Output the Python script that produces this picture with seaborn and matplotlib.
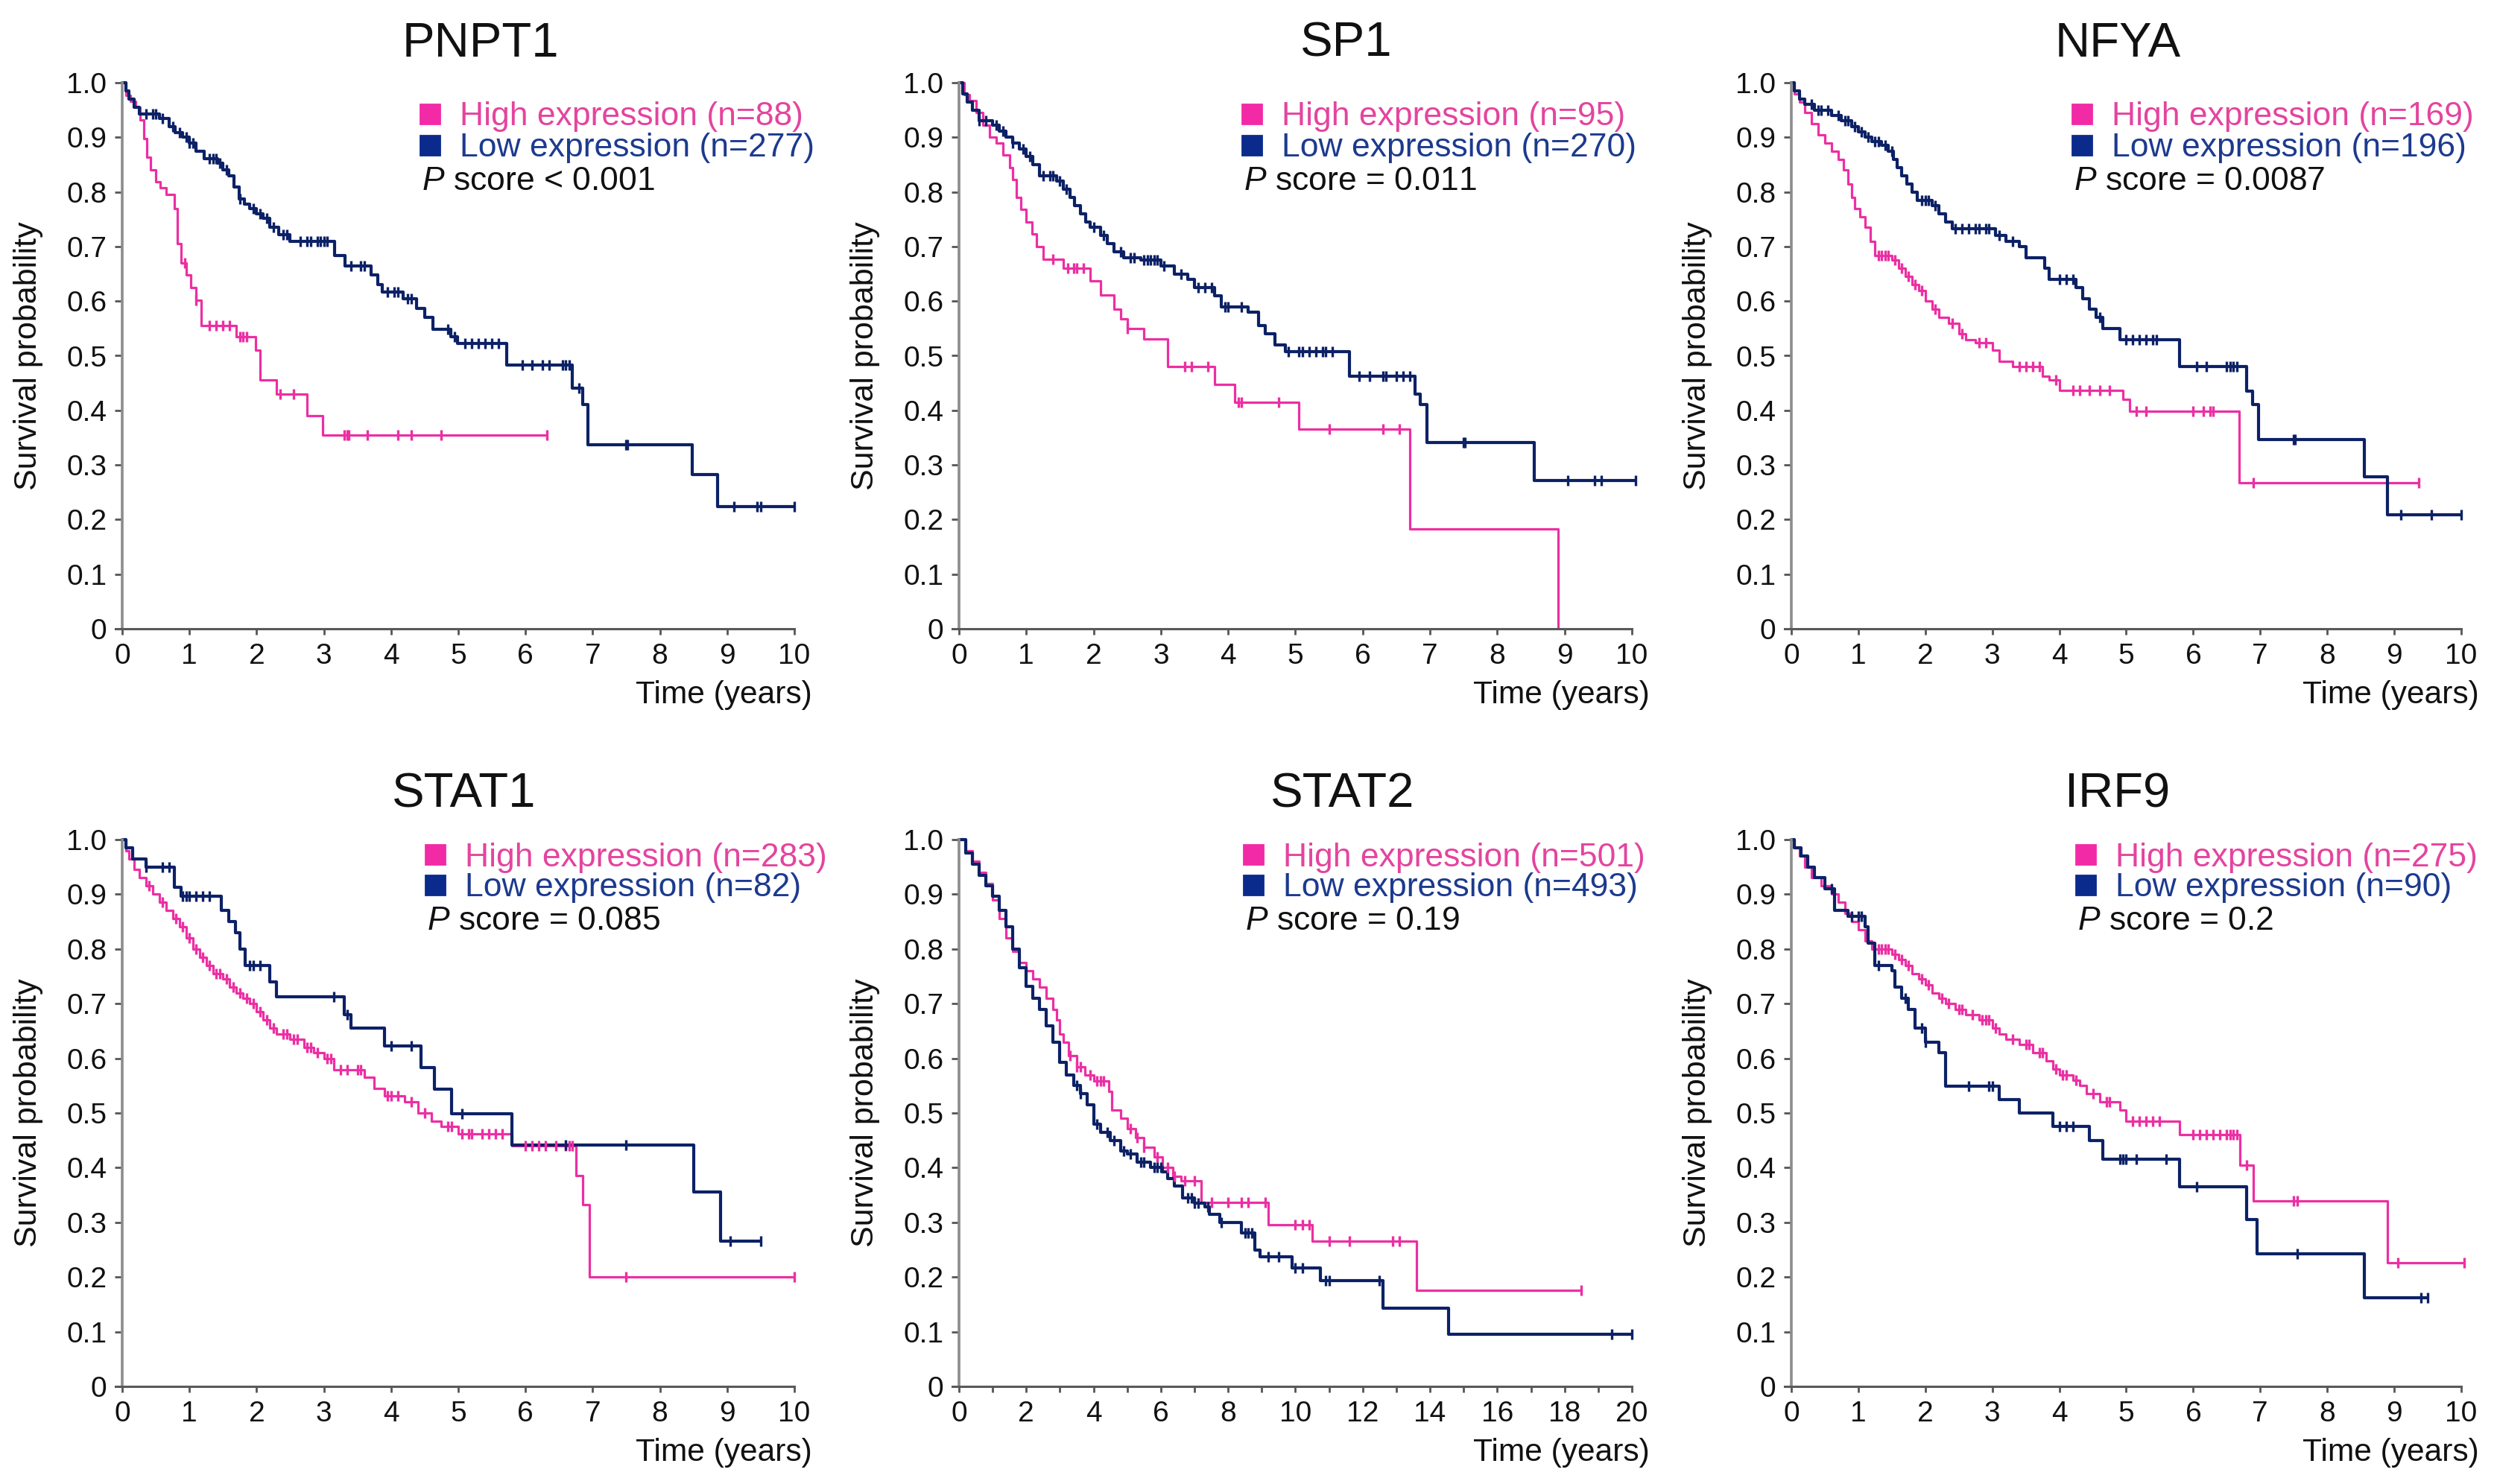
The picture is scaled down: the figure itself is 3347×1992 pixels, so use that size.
import numpy as np
import pandas as pd
import matplotlib
matplotlib.use("Agg")
import matplotlib.pyplot as plt
import seaborn as sns

# ---- data (step times, survival after step, censor times) ----
genes = ["PNPT1", "SP1", "NFYA", "STAT1", "STAT2", "IRF9"]
n_high = [88, 95, 169, 283, 501, 275]
n_low = [277, 270, 196, 82, 493, 90]
p_text = ["< 0.001", "= 0.011", "= 0.0087", "= 0.085", "= 0.19", "= 0.2"]
x_max = [10, 10, 10, 10, 20, 10]

pnpt1_high_t = [0, 0.06, 0.12, 0.2, 0.27, 0.32, 0.37, 0.42, 0.5, 0.56, 0.65, 0.78, 0.82, 0.88, 0.95,
                1.02, 1.1, 1.18, 1.7, 1.98, 2.05, 2.3, 2.75, 2.98]
pnpt1_high_s = [1.0, 0.977, 0.966, 0.955, 0.932, 0.897, 0.863, 0.84, 0.818, 0.807, 0.795, 0.77, 0.705, 0.67, 0.648,
                0.625, 0.602, 0.555, 0.535, 0.51, 0.455, 0.43, 0.39, 0.355]
pnpt1_high_c = [0.93, 1.1, 1.3, 1.4, 1.5, 1.6, 1.75, 1.8, 1.85, 2.35, 2.55, 3.3, 3.35, 3.37, 3.65, 4.1, 4.3, 4.75, 6.32]
pnpt1_high_end = 6.32
pnpt1_low_t = [0, 0.05, 0.1, 0.18, 0.25, 0.55, 0.7, 0.79, 0.9, 1.0, 1.1, 1.22, 1.42, 1.5, 1.58, 1.66, 1.74, 1.82,
               1.9, 2.0, 2.09, 2.2, 2.33, 2.49, 3.16, 3.31, 3.7, 3.8, 3.87, 4.18, 4.38, 4.5, 4.62, 4.89, 4.99,
               5.72, 6.7, 6.85, 6.93, 8.48, 8.86]
pnpt1_low_s = [1.0, 0.985, 0.97, 0.955, 0.943, 0.935, 0.92, 0.909, 0.9, 0.89, 0.874, 0.861, 0.852, 0.84, 0.83,
               0.809, 0.787, 0.778, 0.77, 0.76, 0.752, 0.735, 0.722, 0.709, 0.683, 0.665, 0.648, 0.63, 0.617,
               0.604, 0.587, 0.57, 0.548, 0.535, 0.522, 0.483, 0.44, 0.41, 0.337, 0.283, 0.224]
pnpt1_low_c = [0.35, 0.45, 0.5, 0.6, 0.75, 0.85, 0.95, 1.0, 1.05, 1.3, 1.35, 1.4, 1.45, 1.55, 1.75, 1.95, 2.05,
               2.15, 2.25, 2.4, 2.45, 2.65, 2.75, 2.8, 2.9, 2.95, 3.0, 3.05, 3.4, 3.55, 3.6, 3.95, 4.05, 4.1,
               4.25, 4.3, 4.85, 4.95, 5.1, 5.2, 5.3, 5.4, 5.5, 5.6, 5.95, 6.1, 6.25, 6.35, 6.55, 6.6, 6.65,
               6.8, 7.5, 7.52, 9.1, 9.45, 9.5, 10.0]
pnpt1_low_end = 10.0

sp1_high_t = [0, 0.08, 0.15, 0.25, 0.35, 0.45, 0.55, 0.65, 0.75, 0.8, 0.85, 0.92, 1.0, 1.08, 1.15, 1.25,
              1.55, 1.95, 2.1, 2.3, 2.4, 2.5, 2.75, 3.1, 3.8, 4.1, 5.05, 6.7, 8.9]
sp1_high_s = [1.0, 0.978, 0.967, 0.945, 0.922, 0.9, 0.889, 0.867, 0.845, 0.823, 0.79, 0.768, 0.745, 0.723,
              0.7, 0.676, 0.66, 0.637, 0.611, 0.585, 0.567, 0.55, 0.531, 0.48, 0.447, 0.415, 0.366, 0.183, 0.0]
sp1_high_c = [1.4, 1.62, 1.7, 1.75, 1.85, 2.5, 3.35, 3.45, 3.7, 4.15, 4.2, 4.75, 5.5, 6.3, 6.55]
sp1_high_end = 8.9
sp1_low_t = [0, 0.05, 0.12, 0.2, 0.3, 0.5, 0.6, 0.7, 0.8, 0.9, 1.0, 1.1, 1.2, 1.45, 1.55, 1.65, 1.72, 1.8,
             1.88, 1.95, 2.1, 2.2, 2.3, 2.45, 2.7, 3.0, 3.2, 3.4, 3.5, 3.8, 3.9, 4.3, 4.45, 4.55, 4.7, 4.85,
             5.8, 6.78, 6.85, 6.95, 8.55]
sp1_low_s = [1.0, 0.98, 0.965, 0.95, 0.93, 0.922, 0.912, 0.9, 0.89, 0.878, 0.865, 0.85, 0.83, 0.82, 0.805,
             0.79, 0.775, 0.76, 0.745, 0.735, 0.72, 0.705, 0.69, 0.68, 0.675, 0.665, 0.65, 0.64, 0.625, 0.61,
             0.59, 0.58, 0.555, 0.54, 0.52, 0.508, 0.463, 0.43, 0.41, 0.341, 0.272]
sp1_low_c = [0.3, 0.4, 0.55, 0.65, 0.8, 0.95, 1.05, 1.25, 1.35, 1.4, 1.5, 1.6, 2.0, 2.15, 2.4, 2.55, 2.6,
             2.75, 2.8, 2.85, 2.9, 2.95, 3.05, 3.3, 3.55, 3.65, 3.75, 3.95, 4.0, 4.2, 4.9, 5.05, 5.1, 5.2,
             5.3, 5.4, 5.45, 5.55, 5.95, 6.1, 6.3, 6.35, 6.5, 6.6, 6.7, 7.5, 7.52, 9.05, 9.45, 9.55, 10.05]
sp1_low_end = 10.05

nfya_high_t = [0, 0.05, 0.12, 0.2, 0.3, 0.4, 0.5, 0.6, 0.7, 0.78, 0.85, 0.9, 0.95, 1.02, 1.1, 1.18, 1.25,
               1.5, 1.6, 1.7, 1.8, 1.9, 2.0, 2.1, 2.2, 2.35, 2.5, 2.6, 2.75, 3.0, 3.1, 3.3, 3.75, 3.85, 4.0,
               4.95, 5.05, 6.68]
nfya_high_s = [1.0, 0.98, 0.965, 0.945, 0.925, 0.905, 0.89, 0.875, 0.86, 0.84, 0.815, 0.79, 0.77, 0.755,
               0.735, 0.71, 0.683, 0.675, 0.66, 0.645, 0.63, 0.62, 0.6, 0.585, 0.57, 0.56, 0.54, 0.53, 0.524,
               0.51, 0.49, 0.48, 0.462, 0.455, 0.437, 0.42, 0.399, 0.268]
nfya_high_c = [1.3, 1.35, 1.4, 1.45, 1.55, 1.65, 1.75, 1.85, 1.95, 2.15, 2.4, 2.55, 2.8, 2.9, 3.4, 3.5, 3.6,
               3.7, 3.95, 4.2, 4.3, 4.45, 4.6, 4.75, 5.15, 5.3, 6.0, 6.15, 6.25, 6.3, 6.9, 9.37]
nfya_high_end = 9.37
nfya_low_t = [0, 0.05, 0.12, 0.2, 0.35, 0.6, 0.75, 0.9, 1.0, 1.1, 1.2, 1.35, 1.45, 1.52, 1.58, 1.65, 1.72,
              1.8, 1.88, 2.1, 2.2, 2.3, 2.4, 3.05, 3.2, 3.4, 3.5, 3.78, 3.85, 4.25, 4.35, 4.45, 4.55, 4.65,
              4.9, 5.8, 6.8, 6.88, 6.97, 8.55, 8.9]
nfya_low_s = [1.0, 0.985, 0.97, 0.96, 0.95, 0.94, 0.93, 0.92, 0.91, 0.9, 0.892, 0.885, 0.875, 0.86, 0.845,
              0.83, 0.815, 0.8, 0.785, 0.775, 0.76, 0.745, 0.733, 0.72, 0.71, 0.7, 0.68, 0.66, 0.64, 0.625,
              0.605, 0.585, 0.57, 0.55, 0.53, 0.48, 0.435, 0.41, 0.347, 0.278, 0.209]
nfya_low_c = [0.3, 0.4, 0.45, 0.55, 0.7, 0.8, 0.85, 0.95, 1.05, 1.15, 1.25, 1.3, 1.4, 1.5, 1.95, 2.0, 2.05,
              2.15, 2.45, 2.55, 2.65, 2.75, 2.8, 2.9, 2.95, 3.1, 3.3, 4.0, 4.1, 4.2, 4.6, 5.0, 5.1, 5.2, 5.3,
              5.4, 5.45, 6.05, 6.2, 6.5, 6.55, 6.6, 6.65, 7.5, 7.52, 9.1, 9.55, 10.0]
nfya_low_end = 10.0

stat1_high_t = [0, 0.05, 0.1, 0.18, 0.25, 0.35, 0.45, 0.55, 0.65, 0.75, 0.85, 0.95, 1.05, 1.15, 1.25, 1.35,
                1.5, 1.6, 1.7, 1.8, 1.9, 2.0, 2.1, 2.2, 2.3, 2.5, 2.7, 2.85, 3.0, 3.15, 3.6, 3.75, 3.9, 4.2,
                4.4, 4.6, 4.75, 5.0, 5.8, 6.75, 6.85, 6.95]
stat1_high_s = [1.0, 0.98, 0.965, 0.945, 0.93, 0.915, 0.9, 0.885, 0.87, 0.855, 0.84, 0.82, 0.8, 0.785, 0.77,
                0.755, 0.745, 0.73, 0.72, 0.71, 0.7, 0.685, 0.67, 0.655, 0.645, 0.635, 0.62, 0.61, 0.6,
                0.579, 0.565, 0.545, 0.531, 0.52, 0.5, 0.485, 0.475, 0.462, 0.44, 0.386, 0.332, 0.2]
stat1_high_c = [0.4, 0.6, 0.8, 0.9, 1.0, 1.1, 1.2, 1.3, 1.4, 1.45, 1.55, 1.65, 1.75, 1.85, 1.95, 2.05, 2.15,
                2.25, 2.4, 2.45, 2.55, 2.6, 2.75, 2.8, 2.9, 3.05, 3.1, 3.25, 3.35, 3.5, 3.55, 3.95, 4.0, 4.1,
                4.3, 4.5, 4.85, 4.9, 5.05, 5.15, 5.2, 5.35, 5.45, 5.55, 5.65, 6.0, 6.1, 6.2, 6.3, 6.45, 6.6,
                6.65, 6.7, 7.5, 10.0]
stat1_high_end = 10.0
stat1_low_t = [0, 0.05, 0.15, 0.35, 0.78, 0.88, 1.48, 1.58, 1.68, 1.75, 1.83, 2.2, 2.3, 3.3, 3.4, 3.9, 4.45,
               4.65, 4.9, 5.8, 8.5, 8.9]
stat1_low_s = [1.0, 0.985, 0.965, 0.95, 0.913, 0.896, 0.87, 0.85, 0.83, 0.8, 0.77, 0.74, 0.713, 0.68, 0.655,
               0.622, 0.583, 0.544, 0.499, 0.442, 0.355, 0.266]
stat1_low_c = [0.35, 0.6, 0.7, 0.9, 0.95, 1.0, 1.1, 1.2, 1.3, 1.9, 1.95, 2.05, 3.15, 3.35, 4.0, 4.3, 5.05,
               6.6, 7.5, 9.05, 9.5]
stat1_low_end = 9.5

stat2_high_t = [0, 0.2, 0.4, 0.6, 0.8, 1.0, 1.2, 1.4, 1.6, 1.8, 2.0, 2.2, 2.4, 2.6, 2.8, 2.9, 3.0, 3.1, 3.25,
                3.5, 3.75, 4.0, 4.45, 4.55, 4.8, 5.0, 5.25, 5.5, 5.8, 6.05, 6.35, 6.6, 7.2, 9.2, 10.5, 13.6]
stat2_high_s = [1.0, 0.98, 0.96, 0.94, 0.92, 0.89, 0.855, 0.82, 0.795, 0.775, 0.76, 0.745, 0.73, 0.71, 0.69,
                0.67, 0.645, 0.63, 0.605, 0.585, 0.57, 0.558, 0.54, 0.506, 0.49, 0.471, 0.455, 0.437, 0.42,
                0.40, 0.384, 0.376, 0.337, 0.296, 0.265, 0.176]
stat2_high_c = [3.3, 3.5, 3.6, 3.9, 4.1, 4.2, 4.3, 5.1, 5.3, 5.5, 5.9, 6.2, 6.4, 6.7, 7.0, 7.5, 8.0, 8.4, 8.6,
                9.1, 10.0, 10.2, 10.4, 11.0, 11.6, 12.9, 13.1, 18.5]
stat2_high_end = 18.5
stat2_low_t = [0, 0.2, 0.4, 0.6, 0.8, 1.0, 1.2, 1.4, 1.6, 1.8, 2.0, 2.2, 2.4, 2.6, 2.8, 3.0, 3.2, 3.4, 3.6,
               3.8, 4.0, 4.2, 4.5, 4.8, 5.0, 5.3, 5.7, 6.05, 6.2, 6.4, 6.65, 7.0, 7.3, 7.45, 7.75, 8.4, 8.8,
               8.95, 9.9, 10.75, 12.6, 14.55]
stat2_low_s = [1.0, 0.975, 0.955, 0.935, 0.915, 0.897, 0.87, 0.84, 0.8, 0.765, 0.732, 0.71, 0.69, 0.66, 0.63,
               0.593, 0.57, 0.55, 0.535, 0.515, 0.48, 0.465, 0.45, 0.43, 0.425, 0.41, 0.40, 0.393, 0.38,
               0.367, 0.345, 0.335, 0.328, 0.315, 0.30, 0.28, 0.25, 0.237, 0.217, 0.193, 0.143, 0.096]
stat2_low_c = [3.5, 3.6, 4.1, 4.4, 4.6, 4.9, 5.1, 5.4, 5.5, 5.8, 5.9, 6.0, 6.8, 6.9, 7.0, 7.1, 7.4, 7.8, 8.5,
               8.6, 8.7, 9.2, 9.5, 10.0, 10.2, 10.9, 11.0, 12.5, 19.4, 20.0]
stat2_low_end = 20.0

irf9_high_t = [0, 0.05, 0.12, 0.2, 0.3, 0.45, 0.6, 0.7, 0.8, 0.9, 1.0, 1.1, 1.2, 1.5, 1.6, 1.7, 1.8, 1.9,
               2.0, 2.1, 2.2, 2.3, 2.45, 2.6, 2.8, 3.0, 3.1, 3.2, 3.4, 3.6, 3.8, 3.9, 4.0, 4.2, 4.3, 4.4, 4.6,
               4.9, 5.0, 5.8, 6.7, 6.9, 8.9]
irf9_high_s = [1.0, 0.985, 0.97, 0.95, 0.93, 0.915, 0.9, 0.885, 0.865, 0.85, 0.835, 0.815, 0.8, 0.79, 0.78,
               0.77, 0.755, 0.745, 0.735, 0.72, 0.71, 0.70, 0.69, 0.68, 0.67, 0.655, 0.645, 0.635, 0.625,
               0.61, 0.595, 0.58, 0.57, 0.56, 0.55, 0.535, 0.52, 0.505, 0.485, 0.46, 0.405, 0.339, 0.226]
irf9_high_c = [1.3, 1.35, 1.4, 1.45, 1.55, 1.65, 1.75, 1.95, 2.05, 2.25, 2.35, 2.5, 2.55, 2.7, 2.85, 2.9,
               2.95, 3.05, 3.3, 3.5, 3.55, 3.7, 3.75, 3.95, 4.05, 4.1, 4.25, 4.5, 4.7, 4.75, 5.1, 5.2, 5.3,
               5.4, 5.5, 6.0, 6.1, 6.2, 6.3, 6.4, 6.5, 6.55, 6.6, 6.65, 6.8, 7.5, 7.55, 9.05, 10.05]
irf9_high_end = 10.05
irf9_low_t = [0, 0.05, 0.15, 0.25, 0.35, 0.5, 0.65, 0.85, 1.1, 1.15, 1.25, 1.5, 1.55, 1.65, 1.75, 1.85, 2.0,
              2.2, 2.3, 3.1, 3.4, 3.9, 4.45, 4.65, 5.8, 6.8, 6.95, 8.55]
irf9_low_s = [1.0, 0.985, 0.97, 0.95, 0.93, 0.91, 0.87, 0.86, 0.84, 0.81, 0.77, 0.76, 0.73, 0.71, 0.69,
              0.655, 0.63, 0.61, 0.549, 0.525, 0.5, 0.475, 0.45, 0.416, 0.365, 0.305, 0.243, 0.162]
irf9_low_c = [0.6, 0.9, 1.0, 1.05, 1.3, 1.7, 1.95, 2.0, 2.65, 2.95, 3.0, 4.0, 4.1, 4.2, 4.9, 4.95, 5.0, 5.15,
              5.6, 6.05, 7.55, 9.4, 9.5]
irf9_low_end = 9.5

high_curves = [
    (pnpt1_high_t, pnpt1_high_s, pnpt1_high_c, pnpt1_high_end),
    (sp1_high_t, sp1_high_s, sp1_high_c, sp1_high_end),
    (nfya_high_t, nfya_high_s, nfya_high_c, nfya_high_end),
    (stat1_high_t, stat1_high_s, stat1_high_c, stat1_high_end),
    (stat2_high_t, stat2_high_s, stat2_high_c, stat2_high_end),
    (irf9_high_t, irf9_high_s, irf9_high_c, irf9_high_end),
]
low_curves = [
    (pnpt1_low_t, pnpt1_low_s, pnpt1_low_c, pnpt1_low_end),
    (sp1_low_t, sp1_low_s, sp1_low_c, sp1_low_end),
    (nfya_low_t, nfya_low_s, nfya_low_c, nfya_low_end),
    (stat1_low_t, stat1_low_s, stat1_low_c, stat1_low_end),
    (stat2_low_t, stat2_low_s, stat2_low_c, stat2_low_end),
    (irf9_low_t, irf9_low_s, irf9_low_c, irf9_low_end),
]

# ---- layout (pixel positions on the 3348x1992 canvas) ----
W, H = 3348, 1992
col_x0 = [164, 1287, 2404]
col_x1 = [1066, 2190, 3303]
row_y1 = [111, 1127]
row_y0 = [844, 1861]
title_dx = [30, 68, -11, 8, 63, -12]
title_pad = [10, 13]
legend_dx = [413, 393, 390, 420, 395, 395]
legend_dy = [[42, 84, 133], [20, 61, 110]]

high_line = "#ec2fa3"
low_line = "#0c2166"
high_sq = "#f22aa6"
low_sq = "#0a2a8c"
high_txt = "#e4449e"
low_txt = "#1c3a8e"

sns.set_style("ticks")
plt.rcParams["font.family"] = ["Liberation Sans", "DejaVu Sans"]
plt.rcParams["mathtext.fontset"] = "custom"
plt.rcParams["mathtext.it"] = "Liberation Sans:italic"
plt.rcParams["mathtext.rm"] = "Liberation Sans"


def step_frame(t, s, end):
    return pd.DataFrame({"time": list(t) + [end], "surv": list(s) + [s[-1]]})


def censor_frame(t, s, cens):
    idx = np.searchsorted(np.asarray(t), np.asarray(cens), side="right") - 1
    return pd.DataFrame({"time": cens, "surv": np.asarray(s)[idx]})


fig = plt.figure(figsize=(W / 200, H / 200), dpi=200)

for i, gene in enumerate(genes):
    r, c = divmod(i, 3)
    xm = x_max[i]
    x0, x1 = col_x0[c], col_x1[c]
    y1, y0 = row_y1[r], row_y0[r]
    ppx = (x1 - x0) / xm
    ppy = y0 - y1
    lo, hi = -0.012 * xm, 1.012 * xm
    ytop = 1.01
    left_px = x0 + lo * ppx
    width_px = (hi - lo) * ppx
    height_px = ytop * ppy
    ax = fig.add_axes([left_px / W, 1 - y0 / H, width_px / W, height_px / H])

    def fx(px):
        return (px - left_px) / width_px

    def fy(py):
        return (y0 - py) / height_px

    for (t, s, cens, end), col, lw in [(high_curves[i], high_line, 1.15), (low_curves[i], low_line, 1.5)]:
        sns.lineplot(data=step_frame(t, s, end), x="time", y="surv", drawstyle="steps-post",
                     estimator=None, sort=False, color=col, linewidth=lw, ax=ax)
        sns.scatterplot(data=censor_frame(t, s, cens), x="time", y="surv", marker="|", s=28,
                        linewidth=1.2, color=col, ax=ax, zorder=3)

    ax.set_xlim(lo, hi)
    ax.set_ylim(0, ytop)
    ax.spines["left"].set_position(("data", 0))
    ax.spines["left"].set_bounds(0, 1)
    ax.spines["bottom"].set_bounds(lo * 0.85, xm)
    ax.spines["left"].set_color("#8c8c8c")
    ax.spines["bottom"].set_color("#595959")
    ax.spines["left"].set_linewidth(1.3)
    ax.spines["bottom"].set_linewidth(1.1)
    sns.despine(ax=ax)

    yt = np.round(np.arange(0, 1.01, 0.1), 1)
    ax.set_yticks(yt)
    ax.set_yticklabels(["0"] + [f"{v:.1f}" for v in yt[1:]])
    if xm == 20:
        ax.set_xticks(np.arange(0, 21, 1))
        ax.set_xticklabels([str(v) if v % 2 == 0 else "" for v in range(0, 21)])
    else:
        ax.set_xticks(np.arange(0, 11, 1))
        ax.set_xticklabels([str(v) for v in range(0, 11)])
    ax.tick_params(axis="both", labelsize=14, colors="#111111", direction="out")
    ax.tick_params(axis="x", length=3, width=1, pad=4, color="#555555")
    ax.tick_params(axis="y", length=3.5, width=1, pad=4, color="#555555")

    ax.set_xlabel("")
    ax.set_ylabel("Survival probability", fontsize=15.5, color="#111111")
    ax.yaxis.set_label_coords(fx(x0 - 106), 0.5 / ytop)
    ax.text(fx(x1 + 24), fy(y0 + 89), "Time (years)", transform=ax.transAxes,
            ha="right", va="center", fontsize=15.3, color="#111111")

    ax.set_title(gene, fontsize=23.5, pad=title_pad[r], color="#111111")
    ax.title.set_x(fx((x0 + x1) / 2 + title_dx[i]))

    sq_x = x0 + legend_dx[i]
    dy = legend_dy[r]
    ax.plot([fx(sq_x)], [fy(y1 + dy[0])], marker="s", ms=9.5, color=high_sq,
            transform=ax.transAxes, clip_on=False, linestyle="none")
    ax.plot([fx(sq_x)], [fy(y1 + dy[1])], marker="s", ms=9.5, color=low_sq,
            transform=ax.transAxes, clip_on=False, linestyle="none")
    ax.text(fx(sq_x + 40), fy(y1 + dy[0] + 4), f"High expression (n={n_high[i]})", transform=ax.transAxes,
            ha="left", va="center", fontsize=16, color=high_txt)
    ax.text(fx(sq_x + 40), fy(y1 + dy[1] + 4), f"Low expression (n={n_low[i]})", transform=ax.transAxes,
            ha="left", va="center", fontsize=16, color=low_txt)
    ax.text(fx(sq_x - 11), fy(y1 + dy[2]), f"$P$ score {p_text[i]}", transform=ax.transAxes,
            ha="left", va="center", fontsize=16, color="#111111")

fig.savefig("out.png", dpi=200, facecolor="white")
